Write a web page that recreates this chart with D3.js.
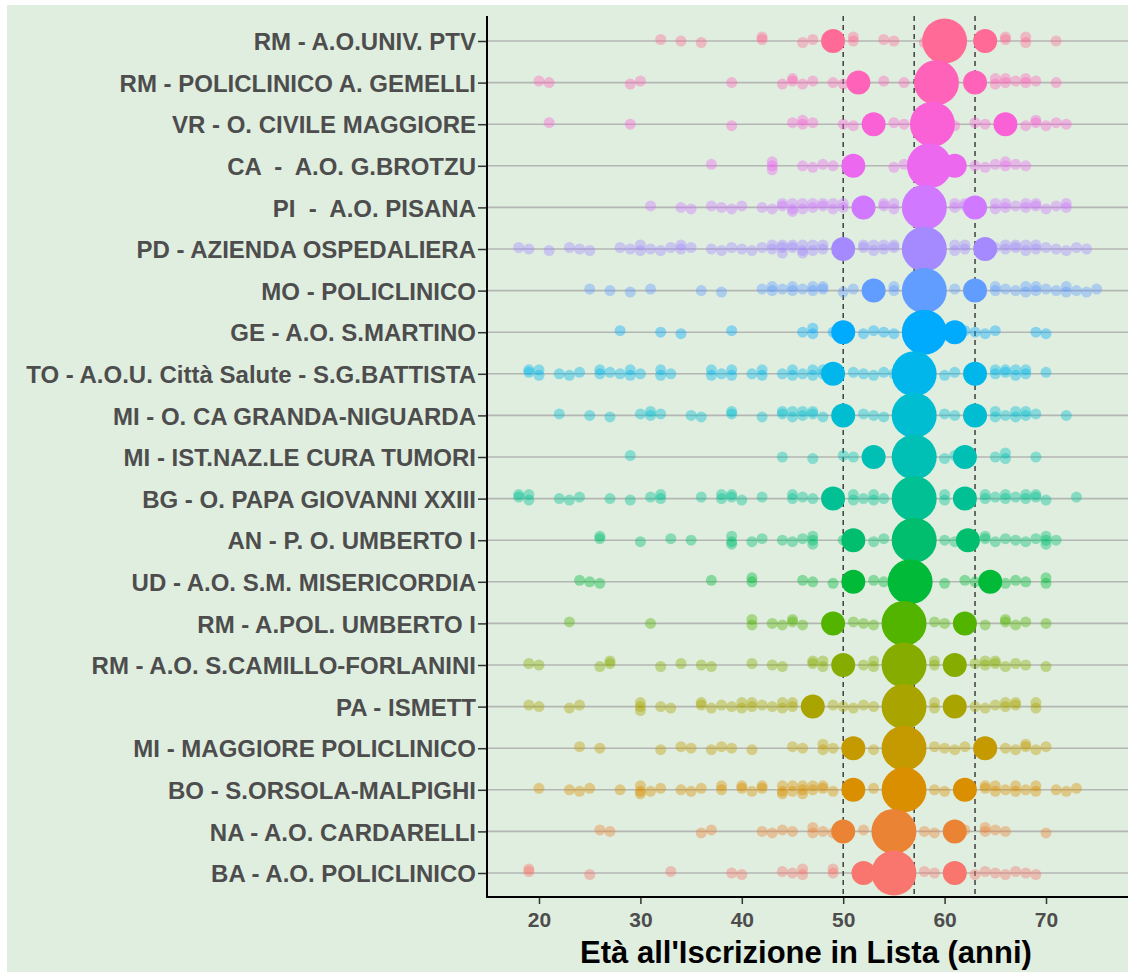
<!DOCTYPE html>
<html>
<head>
<meta charset="utf-8">
<script src="https://cdn.jsdelivr.net/npm/d3@7"></script>
<style>
  html, body { margin: 0; padding: 0; background: #ffffff; }
  svg { display: block; }
  text { font-family: "Liberation Sans", Arial, sans-serif; }
</style>
</head>
<body>
<svg id="chart" width="1128" height="972"></svg>
<script>
// ---------------- DATA ----------------
const centers = [
  "RM - A.O.UNIV. PTV",
  "RM - POLICLINICO A. GEMELLI",
  "VR - O. CIVILE MAGGIORE",
  "CA  -  A.O. G.BROTZU",
  "PI  -  A.O. PISANA",
  "PD - AZIENDA OSPEDALIERA",
  "MO - POLICLINICO",
  "GE - A.O. S.MARTINO",
  "TO - A.O.U. Città Salute - S.G.BATTISTA",
  "MI - O. CA GRANDA-NIGUARDA",
  "MI - IST.NAZ.LE CURA TUMORI",
  "BG - O. PAPA GIOVANNI XXIII",
  "AN - P. O. UMBERTO I",
  "UD - A.O. S.M. MISERICORDIA",
  "RM - A.POL. UMBERTO I",
  "RM - A.O. S.CAMILLO-FORLANINI",
  "PA - ISMETT",
  "MI - MAGGIORE POLICLINICO",
  "BO - S.ORSOLA-MALPIGHI",
  "NA - A.O. CARDARELLI",
  "BA - A.O. POLICLINICO"
];

// individual patient ages per center (same order as centers)
const patientAges = [
  [32,34,36,42,42,46,47,51,51,54,55,58,66,66,68,68,71],
  [20,21,29,30,39,44,45,45,46,47,49,50,54,56,65,65,66,66,67,68,68,69,71],
  [21,29,39,45,46,46,47,50,51,55,56,61,63,64,68,69,69,70,71,72],
  [37,43,43,43,46,47,48,49,55,56,63,64,65,66,66,67,68],
  [31,34,35,37,38,39,40,42,43,44,44,45,45,45,46,46,47,47,48,48,49,49,50,50,54,54,55,55,61,61,62,62,65,65,66,66,67,68,68,69,69,70,71,72,72],
  [18,19,21,23,24,25,28,29,30,30,31,32,33,34,34,35,37,38,39,40,41,42,43,43,44,44,44,45,45,46,46,46,47,47,48,48,52,52,53,53,54,54,55,55,61,61,62,62,65,66,66,67,67,68,68,69,69,70,71,72,73,74],
  [25,27,29,31,36,38,42,43,43,44,45,45,46,47,47,48,48,50,51,55,55,61,65,65,66,67,68,68,69,69,70,71,72,72,73,74,75],
  [28,32,34,39,46,47,47,49,52,53,54,55,62,63,64,65,69,70],
  [19,19,20,20,22,23,24,26,26,27,28,29,29,30,32,32,33,37,37,38,39,39,41,42,42,44,45,45,46,47,47,48,48,51,52,53,54,55,60,61,65,65,66,66,67,67,68,68,70],
  [22,25,27,30,31,31,32,35,36,39,39,42,44,44,45,45,46,46,47,47,48,52,53,54,60,61,65,65,66,67,67,68,68,69,72],
  [29,44,47,50,51,60,61,65,66,66,69],
  [18,18,19,19,22,23,24,27,29,31,32,32,36,38,38,39,39,40,42,45,45,46,47,51,51,52,53,53,54,60,60,64,64,65,66,66,67,68,68,69,69,70,73],
  [26,26,30,33,35,39,39,39,41,42,44,45,46,47,47,47,50,53,54,60,61,64,64,65,66,67,68,69,70,70,70,71],
  [24,25,26,37,41,41,46,47,49,53,54,60,62,63,66,67,68,70,70],
  [23,31,41,41,43,44,45,45,46,51,52,53,59,60,64,66,66,67,68,70],
  [19,20,26,27,27,32,34,36,37,41,43,44,47,47,48,48,52,53,53,59,59,63,64,64,65,65,66,67,68,70],
  [19,20,23,24,30,30,30,32,33,36,36,37,38,39,40,40,41,41,42,43,44,44,45,45,49,50,51,52,53,59,59,63,64,65,66,66,67,67,69,69],
  [24,26,32,34,35,37,38,39,41,45,46,48,48,49,53,59,60,61,62,66,67,68,68,69,70],
  [20,23,24,25,28,30,30,30,31,32,34,35,36,38,38,40,40,41,42,42,44,44,44,45,45,46,46,46,47,47,48,48,49,53,59,60,64,64,65,65,66,67,67,68,69,69,71,72,73],
  [26,27,36,37,42,43,44,45,47,47,48,49,52,58,59,62,64,64,65,66,70],
  [19,19,25,33,39,40,44,45,46,46,49,49,58,59,63,64,65,66,67,68,69]
];

// per-center quartiles (first quartile, median, third quartile)
const q1Ages     = [49, 51.5, 53, 51, 52, 50, 53, 50, 49, 50, 53, 49, 51, 51, 49, 50, 47, 51, 51, 50, 52];
const medianAges = [60, 59.2, 58.8, 58.5, 58, 58, 58, 58, 57, 57, 57, 57, 57, 56.6, 56, 56, 56, 56, 56, 55, 55];
const q3Ages     = [64, 63, 66, 61, 63, 64, 63, 61, 63, 63, 62, 62, 62.3, 64.5, 62, 61, 61, 64, 62, 61, 61];

// overall reference lines (Q1, median, Q3 of all centers)
const overallLines = [50, 57, 63];
const xTicks = [20, 30, 40, 50, 60, 70];
const xTitle = "Età all'Iscrizione in Lista (anni)";

// ---------------- COLOURS (ggplot2 hue palette, polar LUV) ----------------
function hclLuv(h, c, l) {
  const WHITE_Y = 100, WHITE_u = 0.1978398, WHITE_v = 0.4683363;
  const hr = h * Math.PI / 180;
  const U = c * Math.cos(hr), V = c * Math.sin(hr);
  const Y = WHITE_Y * (l > 7.999592 ? Math.pow((l + 16) / 116, 3) : l / 903.3);
  const u = U / (13 * l) + WHITE_u, v = V / (13 * l) + WHITE_v;
  const X = 9.0 * Y * u / (4 * v);
  const Z = -X / 3 - 5 * Y + 3 * Y / v;
  const g = t => t > 0.00304 ? 1.055 * Math.pow(t, 1 / 2.4) - 0.055 : 12.92 * t;
  const cl = t => Math.round(255 * Math.max(0, Math.min(1, t)));
  const r = g((3.240479 * X - 1.537150 * Y - 0.498535 * Z) / WHITE_Y);
  const gg = g((-0.969256 * X + 1.875992 * Y + 0.041556 * Z) / WHITE_Y);
  const b = g((0.055648 * X - 0.204043 * Y + 1.057311 * Z) / WHITE_Y);
  return d3.rgb(cl(r), cl(gg), cl(b)).formatHex();
}
const n = centers.length;
const palette = centers.map((_, j) => hclLuv(15 + (n - 1 - j) * 360 / n, 100, 65));
const color = d3.scaleOrdinal().domain(centers).range(palette);

// ---------------- LAYOUT ----------------
const W = 1128, H = 972;
const panel = { left: 487, right: 1128, top: 16, bottom: 897 };

const svg = d3.select("#chart");
svg.append("rect").attr("x", 0).attr("y", 0).attr("width", W).attr("height", H).attr("fill", "#ffffff");
svg.append("rect").attr("x", 7).attr("y", 5).attr("width", W - 7).attr("height", H - 5).attr("fill", "#E0EEE0");

const x = d3.scaleLinear().domain([20, 70]).range([539, 1046]);
const y = d3.scalePoint().domain(centers).range([41, 873]);

// grid lines
svg.append("g").selectAll("line").data(centers).join("line")
  .attr("x1", panel.left).attr("x2", panel.right)
  .attr("y1", d => y(d)).attr("y2", d => y(d))
  .attr("stroke", "#b4b6b4").attr("stroke-width", 1.6);

// dashed reference lines
svg.append("g").selectAll("line").data(overallLines).join("line")
  .attr("x1", d => x(d)).attr("x2", d => x(d))
  .attr("y1", panel.top).attr("y2", panel.bottom)
  .attr("stroke", "#333333").attr("stroke-width", 1.4)
  .attr("stroke-dasharray", "5,4");

// individual points
const jitterPattern = [0, -4, 4, -2.5, 2.5, -5.5, 5.5];
const points = [];
patientAges.forEach((arr, j) => {
  const seen = {};
  arr.forEach((a, i) => {
    const k = seen[a] || 0;
    seen[a] = k + 1;
    const dy = k === 0 ? ((i % 3) - 1) * 1.5 : jitterPattern[k % jitterPattern.length];
    points.push({ center: centers[j], age: a, dy });
  });
});
svg.append("g").selectAll("circle").data(points).join("circle")
  .attr("cx", d => x(d.age))
  .attr("cy", d => y(d.center) + d.dy)
  .attr("r", 5.5)
  .attr("fill", d => color(d.center))
  .attr("fill-opacity", 0.4);

// quartile bubbles
const radius = d3.scaleOrdinal().domain(["q1", "q3", "med"]).range([12, 12, 22.5]);
const bubbles = [];
centers.forEach((c, j) => {
  bubbles.push({ center: c, age: q1Ages[j], stat: "q1" });
  bubbles.push({ center: c, age: q3Ages[j], stat: "q3" });
  bubbles.push({ center: c, age: medianAges[j], stat: "med" });
});
svg.append("g").selectAll("circle").data(bubbles).join("circle")
  .attr("cx", d => x(d.age))
  .attr("cy", d => y(d.center))
  .attr("r", d => radius(d.stat))
  .attr("fill", d => color(d.center));

// axes
const yAxis = svg.append("g")
  .attr("transform", `translate(${panel.left},0)`)
  .call(d3.axisLeft(y).tickSize(9).tickSizeOuter(0).tickPadding(2));
yAxis.select(".domain").remove();
yAxis.selectAll(".tick line").attr("stroke", "#333333").attr("stroke-width", 1.5);
yAxis.selectAll(".tick text")
  .attr("fill", "#4D4D4D")
  .style("font-size", "24px")
  .style("font-weight", "bold")
  .style("white-space", "pre")
  .attr("dy", "0.36em");

const xAxis = svg.append("g")
  .attr("transform", `translate(0,${panel.bottom})`)
  .call(d3.axisBottom(x).tickValues(xTicks).tickSize(7).tickSizeOuter(0).tickPadding(8));
xAxis.select(".domain").remove();
xAxis.selectAll(".tick line").attr("stroke", "#333333").attr("stroke-width", 1.5);
xAxis.selectAll(".tick text")
  .attr("fill", "#4D4D4D")
  .style("font-size", "21px")
  .style("font-weight", "bold");

// axis lines
svg.append("line").attr("x1", panel.left).attr("x2", panel.left)
  .attr("y1", panel.top).attr("y2", panel.bottom + 1)
  .attr("stroke", "#000").attr("stroke-width", 2);
svg.append("line").attr("x1", panel.left).attr("x2", panel.right)
  .attr("y1", panel.bottom).attr("y2", panel.bottom)
  .attr("stroke", "#000").attr("stroke-width", 2);

// axis title
svg.append("text")
  .attr("x", 806).attr("y", 963)
  .attr("text-anchor", "middle")
  .attr("fill", "#000")
  .style("font-size", "31px")
  .style("font-weight", "bold")
  .text(xTitle);
</script>
</body>
</html>
